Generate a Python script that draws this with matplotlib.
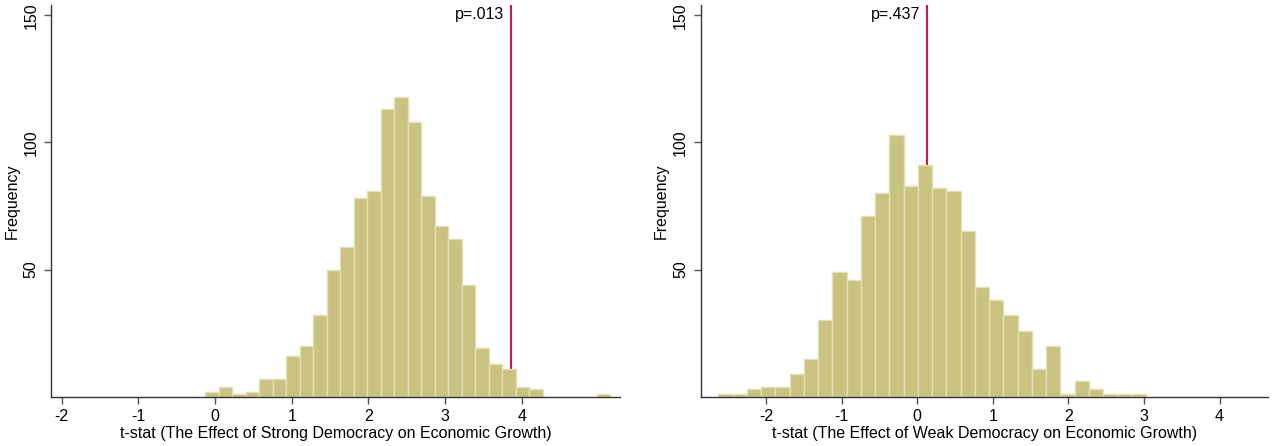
"""Randomization-inference histograms of t-stats (strong vs weak democracy)."""
import matplotlib

matplotlib.use("Agg")
import matplotlib.pyplot as plt
import numpy as np

plt.rcParams["font.family"] = ["Liberation Sans", "DejaVu Sans"]
plt.rcParams["font.size"] = 11.5

# left panel: strong democracy, 30 bins
strong_start, strong_width = -0.130, 0.176
strong_counts = [2, 4, 1, 2, 7, 7, 16, 20, 32, 50, 59, 78, 81, 113, 118,
                 108, 79, 67, 62, 44, 19, 13, 11, 4, 3, 0, 0, 0, 0, 1]
strong_obs, strong_p = 3.86, "p=.013"
strong_xticks = [-2, -1, 0, 1, 2, 3, 4]
strong_xlabel = "t-stat (The Effect of Strong Democracy on Economic Growth)"

# right panel: weak democracy, 30 bins
weak_start, weak_width = -2.632, 0.1886
weak_counts = [1, 1, 3, 4, 4, 9, 15, 30, 49, 46, 71, 80, 103, 83, 91,
               82, 81, 65, 43, 38, 32, 26, 11, 20, 1, 6, 3, 1, 1, 1]
weak_obs, weak_p = 0.124, "p=.437"
weak_xticks = [-2, -1, 0, 1, 2, 3, 4]
weak_xlabel = "t-stat (The Effect of Weak Democracy on Economic Growth)"

yticks = [50, 100, 150]

FILL, EDGE, RED = "#C9C281", "#E4E0B4", "#C41E4A"


def panel(ax, start, width, counts, obs, ptxt, xticks, xlabel, xlim):
    counts = np.asarray(counts)
    left = start + width * np.arange(len(counts))
    keep = counts > 0
    ax.bar(left[keep], counts[keep], width=width, align="edge", color=FILL,
           edgecolor=EDGE, linewidth=1.0, zorder=2)
    ax.axvline(obs, color=RED, lw=1.5, zorder=1)
    ax.text(obs - 0.09, 150.5, ptxt, ha="right", va="center", fontsize=11.5)
    ax.set_xlim(*xlim); ax.set_ylim(0, 154)
    ax.set_xticks(xticks); ax.set_xticklabels([str(t) for t in xticks])
    ax.set_yticks(yticks)
    for lab in ax.get_yticklabels():
        lab.set_rotation(90); lab.set_va("center")
    ax.set_ylabel("Frequency", labelpad=3)
    ax.set_xlabel(xlabel, labelpad=1)
    for s in ("top", "right"):
        ax.spines[s].set_visible(False)
    for s in ("left", "bottom"):
        ax.spines[s].set_color("#333333"); ax.spines[s].set_linewidth(1.0)
    ax.tick_params(direction="out", length=5, width=1, color="#555555", pad=4)


fig = plt.figure(figsize=(12.8, 4.46), dpi=100)
ax1 = fig.add_axes([0.0398, 0.1105, 0.4446, 0.878])
ax2 = fig.add_axes([0.5474, 0.1105, 0.4432, 0.878])
panel(ax1, strong_start, strong_width, strong_counts, strong_obs, strong_p,
      strong_xticks, strong_xlabel, (-2.14, 5.28))
panel(ax2, weak_start, weak_width, weak_counts, weak_obs, weak_p,
      weak_xticks, weak_xlabel, (-2.865, 4.64))
fig.savefig("out.png", dpi=100)
